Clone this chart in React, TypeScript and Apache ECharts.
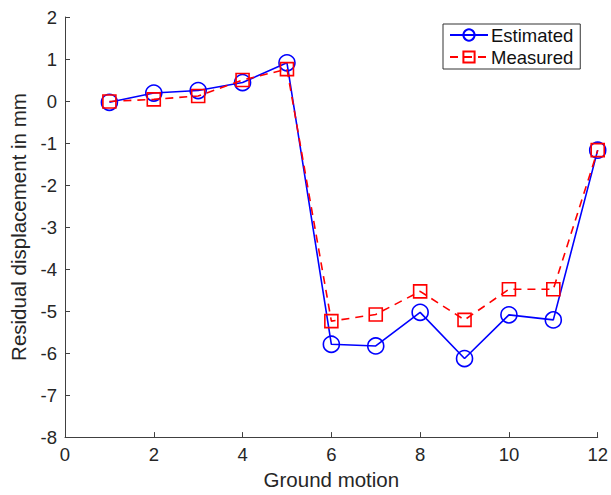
import React, { useEffect, useRef } from "react";
import * as echarts from "echarts";

const groundMotion = [1, 2, 3, 4, 5, 6, 7, 8, 9, 10, 11, 12];
const estimated = [-0.03, 0.19, 0.25, 0.44, 0.91, -5.79, -5.83, -5.03, -6.13, -5.09, -5.21, -1.17];
const measured = [-0.01, 0.04, 0.12, 0.5, 0.76, -5.24, -5.08, -4.53, -5.21, -4.48, -4.48, -1.17];
const seriesNames = ["Estimated", "Measured"];
const xTitle = "Ground motion";
const yTitle = "Residual displacement in mm";

const FONT = "'Liberation Sans', Arial, sans-serif";
const TEXT = "#262626";
const AXIS = "#404040";

export default function App() {
  const ref = useRef<HTMLDivElement>(null);
  useEffect(() => {
    if (!ref.current) return;
    const chart = echarts.init(ref.current, undefined, { renderer: "svg" });
    chart.setOption({
      animation: false,
      backgroundColor: "#fff",
      grid: { left: 64, right: 10, top: 17, bottom: 55, containLabel: false },
      legend: {
        orient: "vertical",
        left: 443,
        top: 24,
        backgroundColor: "#fff",
        borderColor: "#333",
        borderWidth: 1,
        borderRadius: 0,
        padding: [1, 7, 2, 6],
        itemGap: 2,
        itemWidth: 38,
        itemHeight: 14,
        textStyle: { fontFamily: FONT, fontSize: 18.5, lineHeight: 20, color: "#111", padding: [0, 0, 0, -2] },
        data: seriesNames,
      },
      xAxis: {
        type: "value",
        min: 0,
        max: 12,
        interval: 2,
        name: xTitle,
        nameLocation: "middle",
        nameGap: 28,
        nameTextStyle: { fontFamily: FONT, fontSize: 20.5, color: TEXT },
        axisLine: { onZero: false, lineStyle: { color: AXIS, width: 1 } },
        axisTick: { inside: true, length: 5, lineStyle: { color: AXIS } },
        axisLabel: { fontFamily: FONT, fontSize: 18.5, color: TEXT, margin: 8 },
        splitLine: { show: false },
      },
      yAxis: {
        type: "value",
        min: -8,
        max: 2,
        interval: 1,
        name: yTitle,
        nameLocation: "middle",
        nameGap: 36,
        nameTextStyle: { fontFamily: FONT, fontSize: 20.5, color: TEXT },
        axisLine: { show: true, onZero: false, lineStyle: { color: AXIS, width: 1 } },
        axisTick: { show: true, inside: true, length: 5, lineStyle: { color: AXIS } },
        axisLabel: { fontFamily: FONT, fontSize: 18.5, color: TEXT, margin: 8 },
        splitLine: { show: false },
      },
      series: [
        {
          name: seriesNames[0],
          type: "line",
          data: groundMotion.map((x, i) => [x, estimated[i]]),
          symbol: "circle",
          symbolSize: 16,
          lineStyle: { color: "#0000ff", width: 1.6 },
          itemStyle: { color: "rgba(255,255,255,0)", borderColor: "#0000ff", borderWidth: 1.6 },
          z: 2,
        },
        {
          name: seriesNames[1],
          type: "line",
          data: groundMotion.map((x, i) => [x, measured[i]]),
          symbol: "rect",
          symbolSize: 13,
          lineStyle: { color: "#ff0000", width: 1.6, type: [8, 6] },
          itemStyle: { color: "rgba(255,255,255,0)", borderColor: "#ff0000", borderWidth: 1.6 },
          z: 3,
        },
      ],
    });
    return () => chart.dispose();
  }, []);
  return <div ref={ref} style={{ width: 611, height: 495, position: "absolute", left: 0, top: 0 }} />;
}
